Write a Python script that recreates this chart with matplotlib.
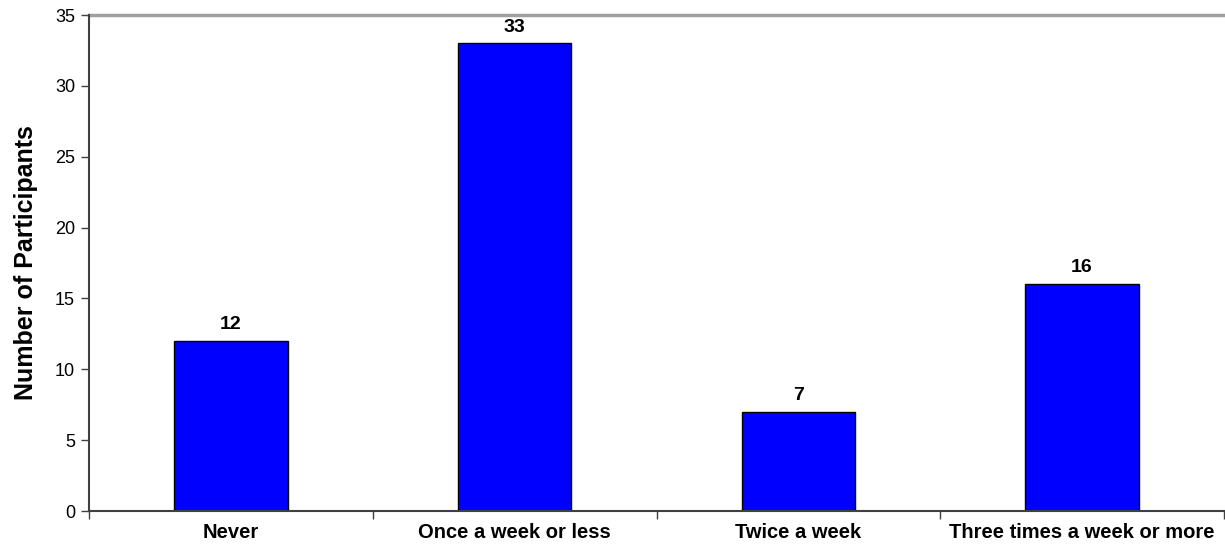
import matplotlib.pyplot as plt
import numpy as np

categories = ["Never", "Once a week or less", "Twice a week", "Three times a week or more"]
participants = [12, 33, 7, 16]

plt.rcParams['font.family'] = ['Liberation Sans', 'DejaVu Sans']

fig = plt.figure(figsize=(12.25, 5.46), dpi=100)
ax = fig.add_axes([89/1225, 35/546, (1224-89)/1225, (511-15)/546])

x = np.arange(len(categories))
bars = ax.bar(x, participants, width=0.4, color="#0000FF", edgecolor="black", linewidth=1)
for b, v in zip(bars, participants):
    ax.text(b.get_x() + b.get_width()/2, v + 0.55, str(v), ha="center", va="bottom",
            fontsize=14, fontweight="bold")

ax.set_xlim(-0.5, len(categories) - 0.5)
ax.set_ylim(0, 35)
ax.set_yticks(range(0, 36, 5))
ax.tick_params(axis="y", labelsize=13, length=6, width=1, color="#404040", pad=4)

ax.set_xticks(x)
ax.set_xticklabels(categories, fontsize=14.5, fontweight="bold")
ax.tick_params(axis="x", length=0, pad=9)
ax.set_xticks(np.arange(-0.5, len(categories)), minor=True)
ax.tick_params(axis="x", which="minor", length=6, width=1, color="#404040")

ax.axhline(35, color="#a0a0a0", linewidth=2.5, clip_on=False)
for s in ["top", "right"]:
    ax.spines[s].set_visible(False)
for s in ["left", "bottom"]:
    ax.spines[s].set_color("#404040")
    ax.spines[s].set_linewidth(1.5)

ax.set_ylabel("Number of Participants", fontsize=18, fontweight="bold", labelpad=12)

fig.savefig("out.png", dpi=100)
